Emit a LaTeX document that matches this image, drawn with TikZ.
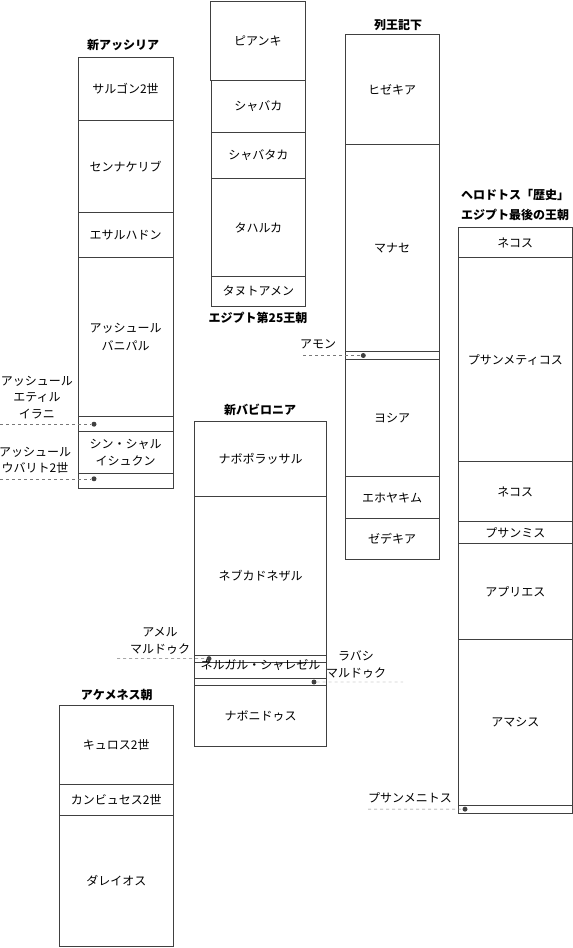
\documentclass[tikz,border=0pt]{standalone}
\usepackage{fontspec}
\setmainfont{Noto Sans CJK JP}
\usepackage{xcolor}
\usetikzlibrary{positioning}
\definecolor{edgegray}{RGB}{64, 64, 64}
\definecolor{leadgray}{RGB}{120, 120, 120}
\tikzstyle{cell} = [
    rectangle,
    draw=edgegray,
    line width=0.8pt,
    inner sep=0pt,
    outer sep=0pt,
    align=center,
    font=\fontsize{12}{17.5}\selectfont
]
\tikzstyle{title} = [
    align=center,
    inner sep=0pt,
    font=\fontsize{12}{20}\selectfont\bfseries
]
\tikzstyle{label} = [
    align=center,
    inner sep=0pt,
    font=\fontsize{12}{16.5}\selectfont
]
\tikzstyle{dot} = [
    circle,
    fill=edgegray,
    inner sep=0pt,
    minimum size=5pt
]
\tikzstyle{leader} = [
    thin,
    dashed,
    color=leadgray
]

\begin{document}
\begin{tikzpicture}[x=1pt, y=-1pt]
        \useasboundingbox (0,0) rectangle (573,948);

        % Neo-Assyria
        \node[cell, anchor=north west, minimum width=95pt, minimum height=63.4pt] (sargon) at (78,57.3) {サルゴン2世};
        \node[cell, below=0pt of sargon, minimum width=95pt, minimum height=92pt] (sennacherib) {センナケリブ};
        \node[cell, below=0pt of sennacherib, minimum width=95pt, minimum height=45pt] (esarhaddon) {エサルハドン};
        \node[cell, below=0pt of esarhaddon, minimum width=95pt, minimum height=159pt] (ashurbanipal) {アッシュール\\バニパル};
        \node[cell, below=0pt of ashurbanipal, minimum width=95pt, minimum height=15pt] (eteliSlot) {};
        \node[cell, below=0pt of eteliSlot, minimum width=95pt, minimum height=41.6pt] (sinshar) {シン・シャル\\イシュクン};
        \node[cell, below=0pt of sinshar, minimum width=95pt, minimum height=15pt] (uballitSlot) {};
        \node[title] (assyriaTitle) at (123,45) {新アッシリア};

        % Egypt 25th dynasty
        \node[cell, anchor=north west, minimum width=94.3pt, minimum height=79pt] (piankhi) at (210.7,1) {ピアンキ};
        \node[cell, anchor=north west, minimum width=93.3pt, minimum height=52.3pt] (shabaka) at (211.7,80) {シャバカ};
        \node[cell, below=0pt of shabaka, minimum width=93.3pt, minimum height=46pt] (shabataka) {シャバタカ};
        \node[cell, below=0pt of shabataka, minimum width=93.3pt, minimum height=98.4pt] (taharqa) {タハルカ};
        \node[cell, below=0pt of taharqa, minimum width=93.3pt, minimum height=29.3pt] (tanutamun) {タヌトアメン};
        \node[title] (egyptTitle) at (258,318) {エジプト第25王朝};

        % 2 Kings
        \node[cell, anchor=north west, minimum width=94pt, minimum height=110pt] (hezekiah) at (345,34.3) {ヒゼキア};
        \node[cell, below=0pt of hezekiah, minimum width=94pt, minimum height=207.4pt] (manasseh) {マナセ};
        \node[cell, below=0pt of manasseh, minimum width=94pt, minimum height=7.6pt] (amonSlot) {};
        \node[cell, below=0pt of amonSlot, minimum width=94pt, minimum height=117.4pt] (josiah) {ヨシア};
        \node[cell, below=0pt of josiah, minimum width=94pt, minimum height=41.6pt] (jehoiakim) {エホヤキム};
        \node[cell, below=0pt of jehoiakim, minimum width=94pt, minimum height=41pt] (zedekiah) {ゼデキア};
        \node[title] (kingsTitle) at (398,25) {列王記下};

        % Neo-Babylonia
        \node[cell, anchor=north west, minimum width=132.4pt, minimum height=75.7pt] (nabopolassar) at (194.3,421) {ナボポラッサル};
        \node[cell, below=0pt of nabopolassar, minimum width=132.4pt, minimum height=158.3pt] (nebuchadnezzar) {ネブカドネザル};
        \node[cell, below=0pt of nebuchadnezzar, minimum width=132.4pt, minimum height=7.3pt] (amelSlot) {};
        \node[cell, below=0pt of amelSlot, minimum width=132.4pt, minimum height=16pt, text depth=0pt] (neriglissar) {\raisebox{1pt}[0pt][0pt]{ネルガル・シャレゼル}};
        \node[cell, below=0pt of neriglissar, minimum width=132.4pt, minimum height=7.4pt] (labashiSlot) {};
        \node[cell, below=0pt of labashiSlot, minimum width=132.4pt, minimum height=60.3pt] (nabonidus) {ナボニドゥス};
        \node[title] (babyloniaTitle) at (260,410) {新バビロニア};

        % Herodotus
        \node[cell, anchor=north west, minimum width=114pt, minimum height=30pt] (necho) at (458.3,227.7) {ネコス};
        \node[cell, below=0pt of necho, minimum width=114pt, minimum height=204pt] (psammetichus) {プサンメティコス};
        \node[cell, below=0pt of psammetichus, minimum width=114pt, minimum height=60pt] (nechoII) {ネコス};
        \node[cell, below=0pt of nechoII, minimum width=114pt, minimum height=21.6pt] (psammis) {プサンミス};
        \node[cell, below=0pt of psammis, minimum width=114pt, minimum height=96pt] (apries) {アプリエス};
        \node[cell, below=0pt of apries, minimum width=114pt, minimum height=165.7pt] (amasis) {アマシス};
        \node[cell, below=0pt of amasis, minimum width=114pt, minimum height=8.3pt] (psammenitusSlot) {};
        \node[title] (herodotusTitle) at (515,205) {ヘロドトス「歴史」\\エジプト最後の王朝};

        % Achaemenid
        \node[cell, anchor=north west, minimum width=114pt, minimum height=79.3pt] (cyrus) at (59.3,705) {キュロス2世};
        \node[cell, below=0pt of cyrus, minimum width=114pt, minimum height=31pt] (cambyses) {カンビュセス2世};
        \node[cell, below=0pt of cambyses, minimum width=114pt, minimum height=131.4pt] (darius) {ダレイオス};
        \node[title] (achaemenidTitle) at (116.7,695) {アケメネス朝};

        % Short reigns
        \node[dot] (eteliDot) at ([xshift=16pt]eteliSlot.west) {};
        \node[dot] (uballitDot) at ([xshift=16pt, yshift=2pt]uballitSlot.west) {};
        \node[dot] (amonDot) at ([xshift=18.3pt]amonSlot.west) {};
        \node[dot] (amelDot) at ([xshift=14.7pt]amelSlot.west) {};
        \node[dot] (labashiDot) at ([xshift=-12.7pt]labashiSlot.east) {};
        \node[dot] (psammenitusDot) at ([xshift=6.7pt]psammenitusSlot.west) {};
        \coordinate (eteliEnd) at (0,424.2);
        \coordinate (uballitEnd) at (0,478.8);
        \coordinate (amonEnd) at (303,355.5);
        \coordinate (amelEnd) at (117,658.6);
        \coordinate (labashiEnd) at (403,682);
        \coordinate (psammenitusEnd) at (368,809.1);
        \draw[leader] (eteliEnd) -- (eteliDot);
        \draw[leader] (uballitEnd) -- (uballitDot);
        \draw[leader] (amonEnd) -- (amonDot);
        \draw[leader] (amelEnd) -- (amelDot);
        \draw[leader] (labashiDot) -- (labashiEnd);
        \draw[leader] (psammenitusEnd) -- (psammenitusDot);

        % Labels
        \node[label] (eteliLabel) at (37,397.5) {アッシュール\\エティル\\イラニ};
        \node[label] (uballitLabel) at (35,460.5) {アッシュール\\ウバリト2世};
        \node[label] (amonLabel) at (318,344) {アモン};
        \node[label] (amelLabel) at (160,641) {アメル\\マルドゥク};
        \node[label] (labashiLabel) at (356,664.5) {ラバシ\\マルドゥク};
        \node[label] (psammenitusLabel) at (410,798) {プサンメニトス};
    \end{tikzpicture}
\end{document}
